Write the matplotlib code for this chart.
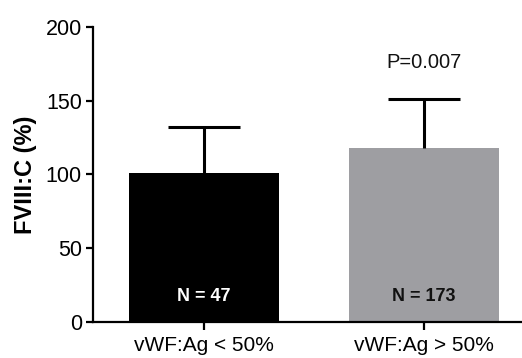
import matplotlib
matplotlib.use("Agg")
from matplotlib import pyplot as plt

groups = ["vWF:Ag < 50%", "vWF:Ag > 50%"]
means = [101, 118]
sd_upper = [31, 33]
counts = ["N = 47", "N = 173"]
bar_colors = ["#000000", "#9e9ea2"]
count_colors = ["white", "#111111"]
p_text = "P=0.007"

plt.rcParams["font.family"] = ["Liberation Sans", "DejaVu Sans"]

fig = plt.figure(figsize=(5.22, 3.58), dpi=100)
ax = fig.add_axes([0.178, 0.1006, 0.822, 0.824])

x = list(range(len(groups)))
ax.bar(x, means, width=0.68, color=bar_colors, zorder=2)
_, caps, _ = ax.errorbar(x, means, yerr=[[0, 0], sd_upper], fmt="none",
                         ecolor="black", elinewidth=2.2, capsize=26,
                         capthick=2.2, zorder=3)
# only the upper cap is wanted
caps[0].remove()

for xi, label, c in zip(x, counts, count_colors):
    ax.text(xi, 17.5, label, ha="center", va="center", fontsize=13,
            fontweight="bold", color=c, zorder=4)
ax.text(1, 176, p_text, ha="center", va="center", fontsize=14.5, color="#111111")

ax.set_xlim(-0.505, 1.445)
ax.set_ylim(0, 200)
ax.set_yticks([0, 50, 100, 150, 200])
ax.set_xticks(x)
ax.set_xticklabels(groups, fontsize=15)
ax.tick_params(axis="y", labelsize=15.5, width=1.6, length=5, pad=3)
ax.tick_params(axis="x", width=1.6, length=6, pad=4)
ax.set_ylabel("FVIII:C (%)", fontsize=17, fontweight="bold", labelpad=6)

for side in ["top", "right"]:
    ax.spines[side].set_visible(False)
for side in ["left", "bottom"]:
    ax.spines[side].set_linewidth(1.6)

fig.savefig("out.png", dpi=100)
